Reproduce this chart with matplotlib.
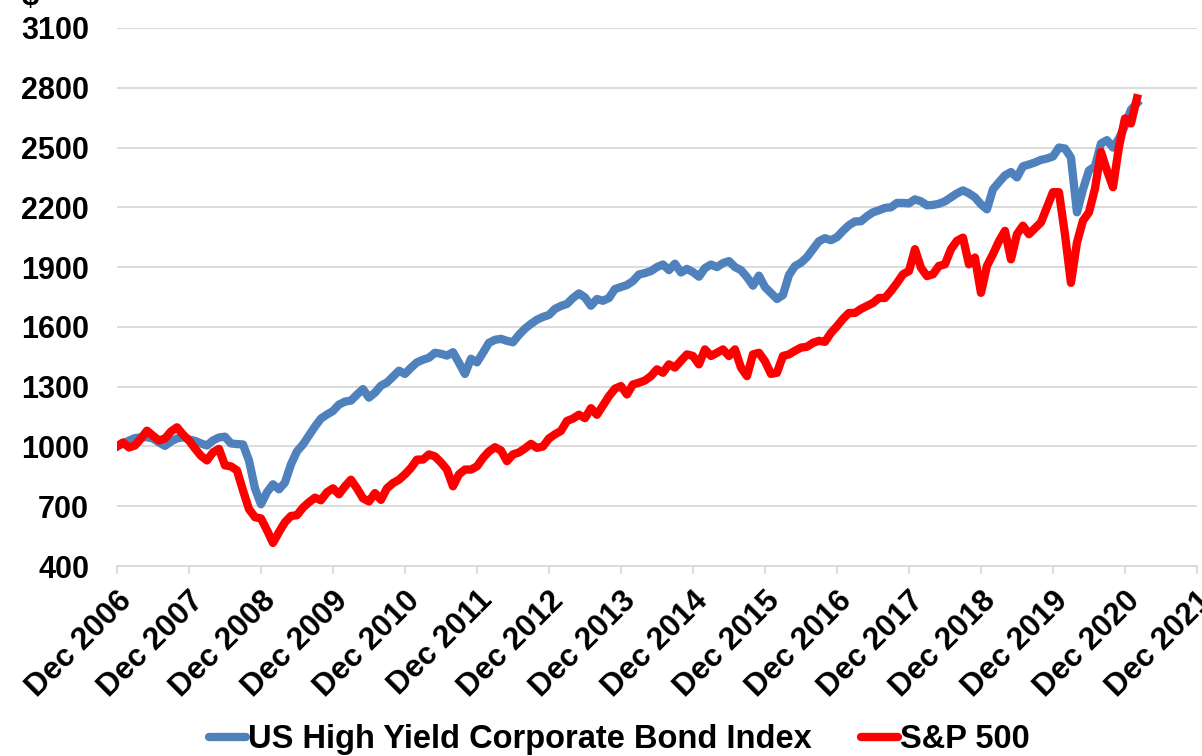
import matplotlib
matplotlib.use('Agg')
import matplotlib.pyplot as plt

plt.rcParams['font.family'] = ['Liberation Sans', 'DejaVu Sans']
plt.rcParams['font.weight'] = 'bold'

# monthly index values, Dec 2006 = 1000 (month 0) to Feb 2021 (month 170)
hy_bond = [
    1000, 1015, 1029, 1042, 1045, 1047, 1040, 1020, 1003, 1025,
    1040, 1047, 1035, 1028, 1015, 1005, 1030, 1045, 1049, 1015,
    1012, 1010, 930, 790, 710, 770, 810, 785, 819, 910,
    975, 1010, 1055, 1100, 1140, 1160, 1178, 1210, 1225, 1230,
    1260, 1288, 1245, 1270, 1305, 1321, 1350, 1380, 1364, 1395,
    1422, 1435, 1445, 1470, 1465, 1456, 1473, 1420, 1364, 1440,
    1422, 1470, 1520, 1535, 1540, 1530, 1523, 1560, 1591, 1615,
    1636, 1650, 1660, 1690, 1705, 1715, 1745, 1768, 1748, 1706,
    1740, 1731, 1745, 1790, 1800, 1810, 1830, 1863, 1870, 1880,
    1900, 1913, 1885, 1917, 1873, 1891, 1875, 1852, 1895, 1913,
    1900, 1920, 1930, 1900, 1885, 1850, 1807, 1857, 1800, 1770,
    1740, 1760, 1860, 1905, 1922, 1950, 1990, 2030, 2045, 2035,
    2050, 2082, 2110, 2129, 2130, 2155, 2175, 2185, 2197, 2200,
    2222, 2222, 2220, 2240, 2230, 2210, 2212, 2218, 2230, 2250,
    2270, 2285, 2270, 2250, 2215, 2190, 2290, 2326, 2360, 2377,
    2350, 2406, 2415, 2425, 2438, 2445, 2455, 2500, 2495, 2450,
    2175, 2290, 2385, 2405, 2520, 2537, 2500, 2545, 2610, 2690,
    2722,
]

sp500 = [
    1000, 1020, 995, 1005, 1040, 1079, 1054, 1030, 1040, 1075,
    1096, 1060, 1030, 990, 953, 930, 970, 988, 905, 900,
    880, 780, 686, 645, 639, 580, 516, 570, 620, 651,
    655, 693, 720, 743, 730, 770, 790, 760, 800, 833,
    790, 740, 724, 766, 732, 790, 816, 833, 860, 892,
    934, 934, 960, 950, 920, 884, 800, 860, 884, 884,
    900, 942, 975, 996, 980, 926, 960, 970, 990, 1013,
    993, 1000, 1040, 1061, 1078, 1128, 1140, 1159, 1142, 1192,
    1159, 1205, 1252, 1290, 1303, 1261, 1311, 1320, 1331, 1353,
    1387, 1370, 1412, 1396, 1430, 1462, 1454, 1412, 1487, 1454,
    1470, 1487, 1454, 1487, 1396, 1353, 1462, 1470, 1428, 1364,
    1370, 1454, 1462, 1480, 1496, 1500, 1520, 1530, 1525, 1570,
    1603, 1640, 1670, 1670, 1690, 1705, 1720, 1745, 1745, 1780,
    1820, 1864, 1880, 1990, 1897, 1855, 1864, 1906, 1914, 1990,
    2032, 2048, 1914, 1948, 1771, 1906, 1965, 2030, 2082, 1939,
    2065, 2108, 2065, 2095, 2124, 2200, 2276, 2276, 2065, 1821,
    2023, 2133, 2175, 2293, 2478, 2385, 2301, 2503, 2646, 2621,
    2747,
]

x_labels = ['Dec %d' % y for y in range(2006, 2022)]
y_ticks = list(range(400, 3101, 300))

fig = plt.figure(figsize=(12.02, 7.56), dpi=100)
ax = fig.add_axes([0.0973, 0.2513, 0.8985, 0.7117])

ax.plot(range(len(hy_bond)), hy_bond, color='#4F81BD', lw=6,
        solid_joinstyle='round', label='US High Yield Corporate Bond Index')
ax.plot(range(len(sp500)), sp500, color='#FF0000', lw=6,
        solid_joinstyle='round', label='S&P 500')

ax.set_xlim(0, 180)
ax.set_ylim(400, 3100)
ax.set_yticks(y_ticks)
ax.set_yticklabels([str(v) for v in y_ticks], fontsize=22, fontweight='bold')
ax.set_xticks(range(0, 181, 12))
ax.set_xticklabels(x_labels, fontsize=22.5, fontweight='bold', rotation=45,
                   ha='right', va='top', rotation_mode='anchor')

ax.grid(axis='y', color='#d9d9d9', lw=1.3)
ax.set_axisbelow(True)
for s in ['left', 'right', 'top']:
    ax.spines[s].set_visible(False)
ax.spines['bottom'].set_color('#d9d9d9')
ax.spines['bottom'].set_linewidth(1.3)
ax.tick_params(axis='y', length=0, pad=20)
ax.tick_params(axis='x', length=6, width=1.3, color='#d9d9d9', pad=8)

fig.text(0.018, 0.9934, '$', fontsize=22, fontweight='bold')

leg = fig.legend(loc='lower center', bbox_to_anchor=(0.515, -0.038), ncol=2,
                 frameon=False, prop={'size': 23.5, 'weight': 'bold'},
                 handlelength=1.15, handletextpad=0.05, columnspacing=1.5)
for h in leg.legend_handles:
    h.set_solid_capstyle('round')

fig.savefig('out.png', dpi=100)
